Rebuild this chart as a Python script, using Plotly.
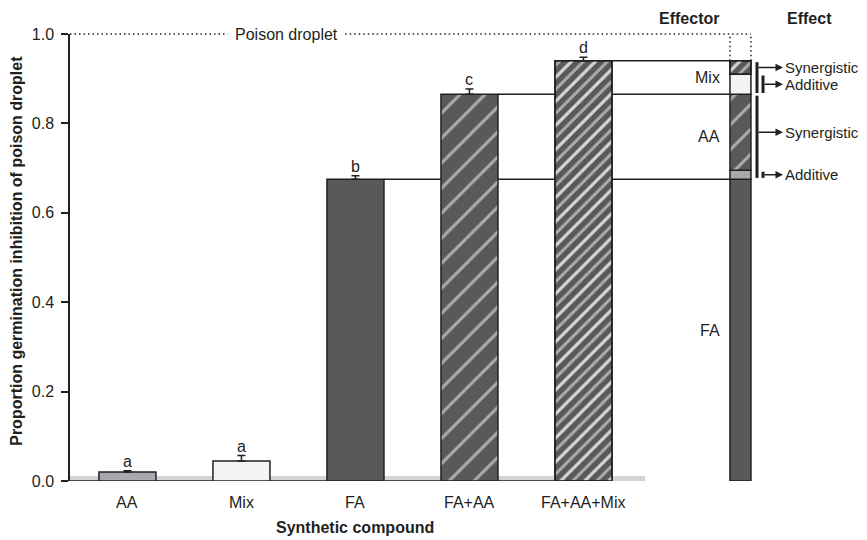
import plotly.graph_objects as go

# ---------------- data ----------------
categories = ["AA", "Mix", "FA", "FA+AA", "FA+AA+Mix"]
inhibition = [0.020, 0.045, 0.675, 0.865, 0.940]
errors = [0.003, 0.012, 0.008, 0.012, 0.008]
letters = ["a", "a", "b", "c", "d"]
effector_labels = ["FA", "AA", "Mix"]
effect_labels = ["Synergistic", "Additive", "Synergistic", "Additive"]
y_ticks = [0.0, 0.2, 0.4, 0.6, 0.8, 1.0]
poison_level = 1.0

# ---------------- style ----------------
FONT = "Liberation Sans, Arial, Helvetica, sans-serif"
INK = "#231f20"
DARK = "#58595b"
MID = "#a7a9ac"
LIGHT = "#f3f3f3"
STRIPE = "#a3a3a3"
CLEAR = "rgba(0,0,0,0)"

xs = list(range(len(categories)))
BW = 0.5
XE = 5.377          # effector column position
EW = 0.184
XE_L, XE_R = XE - EW / 2, XE + EW / 2
X0 = -0.504
X_BRK = 5.522       # effect bracket x
X_BRK2 = 5.575
X_HEAD = 5.75

aa, mix, fa, fa_aa, fa_aa_mix = inhibition
syn_aa = fa_aa - fa - aa
syn_mix = fa_aa_mix - fa_aa - mix

SPARSE = dict(size=17.7, sol=0.17)
DENSE = dict(size=8.5, sol=0.35)
WHITE = dict(size=17.0, sol=0.18)

fig = go.Figure()

# light baseline band + axis line
fig.add_shape(type="rect", x0=X0, x1=4.54, y0=0, y1=0.011, fillcolor="#d4d4d4",
              line_width=0, layer="below")
fig.add_shape(type="line", x0=X0, x1=xs[-1] + BW / 2, y0=0, y1=0,
              line=dict(color=INK, width=1.5), layer="below")

# ---------------- main bars ----------------
fills = [MID, LIGHT, DARK, DARK, DARK]
fig.add_trace(go.Bar(
    x=xs, y=inhibition, width=BW,
    marker=dict(color=fills, line=dict(color=INK, width=1.5),
                pattern=dict(shape=["", "", "", "/", "/"], fgcolor=STRIPE,
                             size=[8, 8, 8, SPARSE["size"], DENSE["size"]],
                             solidity=[0.2, 0.2, 0.2, SPARSE["sol"], DENSE["sol"]],
                             fillmode="overlay")),
    error_y=dict(type="data", symmetric=False, array=errors, arrayminus=[0] * len(xs),
                 color=INK, thickness=1.5, width=4),
    showlegend=False, hoverinfo="skip"))
# white stripes on FA+AA+Mix
fig.add_trace(go.Bar(
    x=[xs[4]], y=[fa_aa_mix], width=BW,
    marker=dict(color=CLEAR, line=dict(width=0),
                pattern=dict(shape="/", fgcolor="white", size=WHITE["size"],
                             solidity=WHITE["sol"], fillmode="overlay")),
    showlegend=False, hoverinfo="skip"))
fig.add_trace(go.Bar(
    x=[xs[4]], y=[fa_aa_mix], width=BW,
    marker=dict(color=CLEAR, line=dict(color=INK, width=1.5)),
    showlegend=False, hoverinfo="skip"))

# ---------------- effector stacked column ----------------
eff_base = [0, fa, fa + aa, fa_aa, fa_aa + mix]
eff_h = [fa, aa, syn_aa, mix, syn_mix]
eff_fill = [DARK, MID, DARK, LIGHT, DARK]
fig.add_trace(go.Bar(
    x=[XE] * 5, y=eff_h, base=eff_base, width=EW,
    marker=dict(color=eff_fill, line=dict(color=INK, width=1.5),
                pattern=dict(shape=["", "", "/", "", "/"], fgcolor=STRIPE,
                             size=[8, 8, SPARSE["size"], 8, DENSE["size"]],
                             solidity=[0.2, 0.2, SPARSE["sol"], 0.2, DENSE["sol"]],
                             fillmode="overlay")),
    showlegend=False, hoverinfo="skip"))
fig.add_trace(go.Bar(
    x=[XE], y=[syn_mix], base=[fa_aa + mix], width=EW,
    marker=dict(color=CLEAR, line=dict(width=0),
                pattern=dict(shape="/", fgcolor="white", size=WHITE["size"],
                             solidity=WHITE["sol"], fillmode="overlay")),
    showlegend=False, hoverinfo="skip"))
fig.add_trace(go.Bar(
    x=[XE], y=[syn_mix], base=[fa_aa + mix], width=EW,
    marker=dict(color=CLEAR, line=dict(color=INK, width=1.5)),
    showlegend=False, hoverinfo="skip"))

# ---------------- connector lines ----------------
def right(i):
    return xs[i] + BW / 2


def left(i):
    return xs[i] - BW / 2


segs = [(fa, right(2), left(3)), (fa, right(3), left(4)), (fa, right(4), XE_L),
        (fa_aa, right(3), left(4)), (fa_aa, right(4), XE_L), (fa_aa_mix, right(4), XE_L)]
for yv, xa, xb in segs:
    fig.add_shape(type="line", x0=xa, x1=xb, y0=yv, y1=yv, line=dict(color=INK, width=1.5))

# poison droplet dotted reference
DOT = "1.5px,3px"
fig.add_shape(type="line", x0=X0, x1=0.88, y0=poison_level, y1=poison_level, yref="paper",
              line=dict(color=INK, width=1.5, dash=DOT))
fig.add_shape(type="line", x0=1.91, x1=XE_R, y0=poison_level, y1=poison_level, yref="paper",
              line=dict(color=INK, width=1.5, dash=DOT))
for xv in (XE_L, XE_R):
    fig.add_shape(type="line", x0=xv, x1=xv, y0=fa_aa_mix, y1=poison_level,
                  line=dict(color=INK, width=1.5, dash=DOT))
fig.add_annotation(x=1.395, y=poison_level, yref="paper", text="Poison droplet",
                   showarrow=False, font=dict(size=16, color=INK, family=FONT),
                   xanchor="center", yanchor="middle")

# effector labels
for lab, yv in zip(effector_labels, [fa / 2, (fa + fa_aa) / 2, (fa_aa + fa_aa_mix) / 2]):
    fig.add_annotation(x=XE_L - 0.07, y=yv, text=lab, showarrow=False, xanchor="right",
                       yanchor="middle", font=dict(size=16, color=INK, family=FONT))

# ---------------- effect brackets + arrows ----------------
brackets = [(X_BRK, fa_aa, fa_aa_mix), (X_BRK2, fa_aa, fa_aa + mix),
            (X_BRK, fa, fa_aa), (X_BRK2, fa, fa + aa)]
for xb, y0, y1 in brackets:
    fig.add_shape(type="line", x0=xb, x1=xb, y0=y0 + 0.003, y1=y1 - 0.003,
                  line=dict(color=INK, width=3))
arrow_y = [fa_aa + mix + syn_mix / 2, fa_aa + mix / 2, fa + aa + syn_aa / 2, fa + aa / 2]
arrow_x0 = [X_BRK, X_BRK2, X_BRK, X_BRK2]
for lab, yv, xt in zip(effect_labels, arrow_y, arrow_x0):
    fig.add_annotation(x=X_HEAD, y=yv, ax=xt, ay=yv, axref="x", ayref="y", text="",
                       showarrow=True, arrowhead=2, arrowsize=1, arrowwidth=1.5,
                       arrowcolor=INK, standoff=0)
    fig.add_annotation(x=X_HEAD, y=yv, text=lab, showarrow=False, xanchor="left",
                       yanchor="middle", xshift=1, borderpad=0,
                       font=dict(size=15, color=INK, family=FONT))

# headers
fig.add_annotation(x=4.925, xref="x", y=1.034, yref="paper", text="<b>Effector</b>",
                   showarrow=False, xanchor="center", yanchor="middle",
                   font=dict(size=16, color=INK, family=FONT))
fig.add_annotation(x=X_HEAD + 0.02, xref="x", y=1.034, yref="paper", text="<b>Effect</b>",
                   showarrow=False, xanchor="left", yanchor="middle",
                   font=dict(size=16, color=INK, family=FONT))

# significance letters
for xv, v, e, lt in zip(xs, inhibition, errors, letters):
    fig.add_annotation(x=xv, y=v + e, text=lt, showarrow=False, yanchor="bottom",
                       xanchor="center", yshift=-1, font=dict(size=16, color=INK, family=FONT))

# category tick labels + axis titles
for xv, lab in zip(xs, categories):
    fig.add_annotation(x=xv, y=-0.049, yref="paper", text=lab, showarrow=False,
                       xanchor="center", yanchor="middle",
                       font=dict(size=16, color=INK, family=FONT))
fig.add_annotation(x=xs[2], y=-0.105, yref="paper", text="<b>Synthetic compound</b>",
                   showarrow=False, xanchor="center", yanchor="middle",
                   font=dict(size=16, color=INK, family=FONT))
fig.add_annotation(x=-0.0665, xref="paper", y=0.515, yref="paper",
                   text="<b>Proportion germination inhibition of poison droplet</b>",
                   textangle=-90, showarrow=False, xanchor="center", yanchor="middle",
                   font=dict(size=16, color=INK, family=FONT))

# the page body has an 8px margin, so the figure is sized/offset to compensate
fig.update_layout(
    width=859, height=532,
    margin=dict(l=62, r=0, t=26, b=59),
    barmode="overlay",
    plot_bgcolor="white", paper_bgcolor="white",
    font=dict(family=FONT, color=INK, size=16),
    showlegend=False,
    xaxis=dict(range=[X0, 6.487], visible=False, fixedrange=True),
    yaxis=dict(range=[0, 1.0], tickvals=y_ticks, tickformat=".1f", ticks="outside",
               ticklen=7, tickwidth=1.5, tickcolor=INK, showline=True, linecolor=INK,
               linewidth=1.5, showgrid=False, zeroline=False, ticklabelstandoff=4,
               tickfont=dict(size=16, color=INK, family=FONT)),
)

fig.write_html("out.html")
